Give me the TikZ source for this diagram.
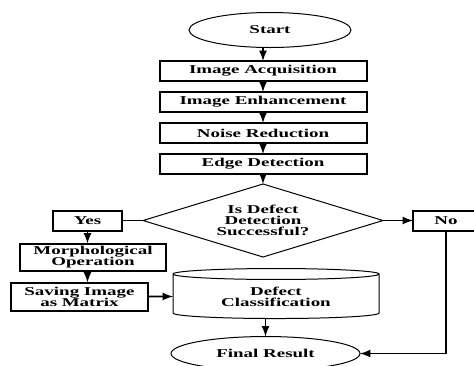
\documentclass[tikz,border=0pt]{standalone}
\usepackage{fontspec}
\setmainfont{Liberation Serif}[FakeStretch=1.58]
\usetikzlibrary{arrows,positioning,shapes.geometric}

\begin{document}
\begin{tikzpicture}[>=latex, line width=0.8pt]
	\tikzstyle{every node}=[font=\fontsize{6}{5.6}\selectfont\bfseries, outer sep=0pt]
	\tikzstyle{box}=[draw, rectangle, line width=1pt, inner sep=0pt,
		align=center, minimum height=10pt]
	\tikzstyle{stepbox}=[box, minimum width=103.5pt]
	\tikzstyle{oval}=[draw, ellipse, line width=0.5pt, inner sep=0pt]
	\useasboundingbox (-135pt,15pt) rectangle (102pt,-167.5pt);
	% % Nodes
	% start
	\node[oval, minimum width=81pt, minimum height=17.5pt](start) {Start};
	% processing chain
	\node[stepbox, below=6.75pt of start, xshift=-3.5pt](acq)
	{Image Acquisition};
	\node[stepbox, below=5.5pt of acq](enh) {Image Enhancement};
	\node[stepbox, below=5.5pt of enh](noise) {Noise Reduction};
	\node[stepbox, below=5.5pt of noise](edge) {Edge Detection};
	% decision
	\node[draw, diamond, aspect=3.29, line width=0.5pt, inner sep=0pt,
		  minimum width=120pt, minimum height=36.5pt, align=center,
		  below=5pt of edge](decision)
	{Is Defect\\Detection\\Successful?};
	% answers
	\node[box, minimum width=34.5pt, left=10.5pt of decision](yes) {Yes};
	\node[box, minimum width=33pt, right=15pt of decision](no) {No};
	% yes branch
	\node[box, minimum width=73pt, minimum height=13.5pt,
		  below=6.5pt of yes, xshift=2.75pt](morph)
	{Morphological\\Operation};
	\node[box, minimum width=68.5pt, minimum height=14pt,
		  below=6pt of morph, xshift=-6.75pt](save)
	{Saving Image\\as Matrix};
	% classification
	\node[draw, cylinder, shape border rotate=90, aspect=0.1,
		  line width=0.5pt, inner sep=0pt, align=center,
		  minimum width=103pt, minimum height=25pt,
		  right=12.5pt of save](cyl)
	{Defect\\Classification};
	% final result
	\node[oval, minimum width=94.5pt, minimum height=17pt,
		  below=9pt of cyl, xshift=-5.25pt](final) {Final Result};
	% % Connectors
	\draw [->] (start.south -| acq.north) -- (acq.north);
	\draw [->] (acq) -- (enh);
	\draw [->] (enh) -- (noise);
	\draw [->] (noise) -- (edge);
	\draw [->] (edge) -- (decision);
	\draw (decision) -- (yes);
	\draw [->] (decision) -- (no);
	\draw [->] (yes) -- (yes |- morph.north);
	\draw [->] (yes |- morph.south) -- (yes |- save.north);
	\draw [->] (save) -- (cyl);
	\draw [->] (final |- cyl.south) -- (final);
	\draw [->] (no) |- (final);
\end{tikzpicture}
\end{document}
